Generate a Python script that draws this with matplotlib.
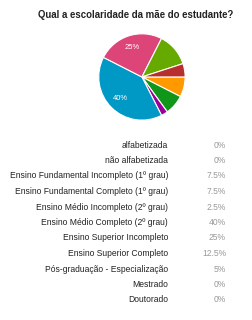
import matplotlib
matplotlib.use("Agg")
import matplotlib.pyplot as plt

plt.rcParams['font.family'] = ['Liberation Sans', 'DejaVu Sans']

title = "Qual a escolaridade da mãe do estudante?"

categories = [
    "alfabetizada",
    "não alfabetizada",
    "Ensino Fundamental Incompleto (1º grau)",
    "Ensino Fundamental Completo (1º grau)",
    "Ensino Médio Incompleto (2º grau)",
    "Ensino Médio Completo (2º grau)",
    "Ensino Superior Incompleto",
    "Ensino Superior Completo",
    "Pós-graduação - Especialização",
    "Mestrado",
    "Doutorado",
]
percent = [0, 0, 7.5, 7.5, 2.5, 40, 25, 12.5, 5, 0, 0]
value_labels = ["0%", "0%", "7.5%", "7.5%", "2.5%", "40%", "25%", "12.5%", "5%", "0%", "0%"]

# google charts default palette, one per category
palette = ["#3366cc", "#dc3912", "#ff9900", "#109618", "#990099", "#0099c6",
           "#dd4477", "#66aa00", "#b82e2e", "#316395", "#994499"]

fig = plt.figure(figsize=(2.53, 3.2), dpi=100)
fig.patch.set_facecolor("white")

# only the non-zero slices get drawn
vals = [v for v in percent if v > 0]
cols = [c for v, c in zip(percent, palette) if v > 0]

ax = fig.add_axes([0.387, 0.622, 0.348, 0.275])
wedges, texts, autotexts = ax.pie(
    vals, colors=cols, startangle=0, counterclock=False, radius=1,
    autopct=lambda p: f"{p:.0f}%" if p >= 20 else "",
    pctdistance=0.72,
    wedgeprops=dict(edgecolor="white", linewidth=0.8),
    textprops=dict(color="white", fontsize=5.5),
)
ax.set_xlim(-1.02, 1.02)
ax.set_ylim(-1.02, 1.02)
ax.set_aspect("auto")
ax.axis("off")

fig.text(136 / 253, 1 - 15 / 320, title, ha="center", va="center",
         fontsize=6.9, fontweight="bold", color="#222222")

# summary table below the pie
row_y0 = 145
row_step = 15.5
for i, (cat, lab) in enumerate(zip(categories, value_labels)):
    y = 1 - (row_y0 + i * row_step) / 320
    fig.text(168 / 253, y, cat, ha="right", va="center", fontsize=6.15, color="#222222")
    fig.text(226 / 253, y, lab, ha="right", va="center", fontsize=6.15, color="#999999")

fig.savefig("out.png", dpi=100)
